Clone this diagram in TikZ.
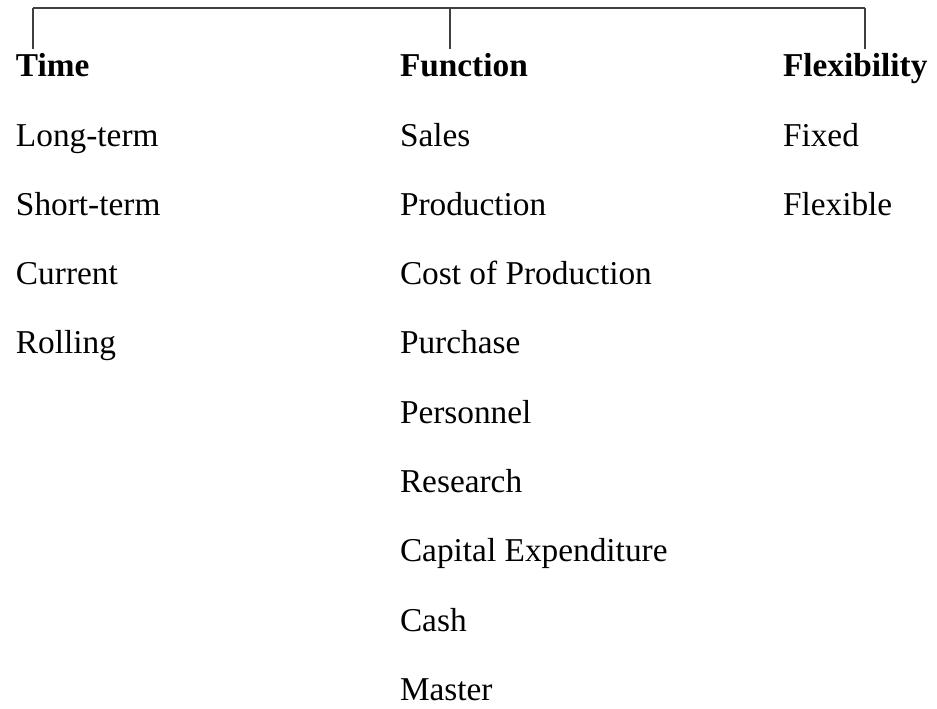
\documentclass[tikz,border=0pt]{standalone}
\usepackage{fontspec}
\setmainfont{Liberation Serif}
\usetikzlibrary{
    calc,
    positioning
}
\tikzset{
    every picture/.style = {
        x = 0.75pt,
        y = -0.75pt,
        line width = 1.1pt
    },
    head/.style = {
        anchor = base west,
        inner sep = 0pt,
        outer xsep = 0pt,
        outer ysep = 3pt,
        font = \fontsize{25}{30}\selectfont\bfseries
    },
    item/.style = {
        anchor = base west,
        inner sep = 0pt,
        outer sep = 0pt,
        font = \fontsize{25}{30}\selectfont
    },
    bar/.style = {
        draw = black!75
    }
}

\begin{document}
\begin{tikzpicture}
                \useasboundingbox (0, 0) rectangle (937, 708);
                % headings
                \node[head] (time) at (16, 76) {Time};
                \node[head] (function) at (400, 76) {Function};
                \node[head] (flexibility) at (783, 76) {Flexibility};
                % time
                \node[item] (long) at (16, 146) {Long-term};
                \node[item] (short) at (16, 215.3) {Short-term};
                \node[item] (current) at (16, 284.6) {Current};
                \node[item] (rolling) at (16, 353.9) {Rolling};
                % function
                \node[item] (sales) at (400, 146) {Sales};
                \node[item] (production) at (400, 215.3) {Production};
                \node[item] (cost) at (400, 284.6) {Cost of Production};
                \node[item] (purchase) at (400, 353.9) {Purchase};
                \node[item] (personnel) at (400, 423.2) {Personnel};
                \node[item] (research) at (400, 492.5) {Research};
                \node[item] (capital) at (400, 561.8) {Capital Expenditure};
                \node[item] (cash) at (400, 631.1) {Cash};
                \node[item] (master) at (400, 700.4) {Master};
                % flexibility
                \node[item] (fixed) at (783, 146) {Fixed};
                \node[item] (flexible) at (783, 215.3) {Flexible};
                % bar
                \coordinate (barL) at (33, 8);
                \coordinate (barM) at (450, 8);
                \coordinate (barR) at (865, 8);
                \path[bar] (barL) -- (barR);
                \path[bar] (barL) -- (barL |- time.north);
                \path[bar] (barM) -- (barM |- function.north);
                \path[bar] (barR) -- (barR |- flexibility.north);
            \end{tikzpicture}
\end{document}
